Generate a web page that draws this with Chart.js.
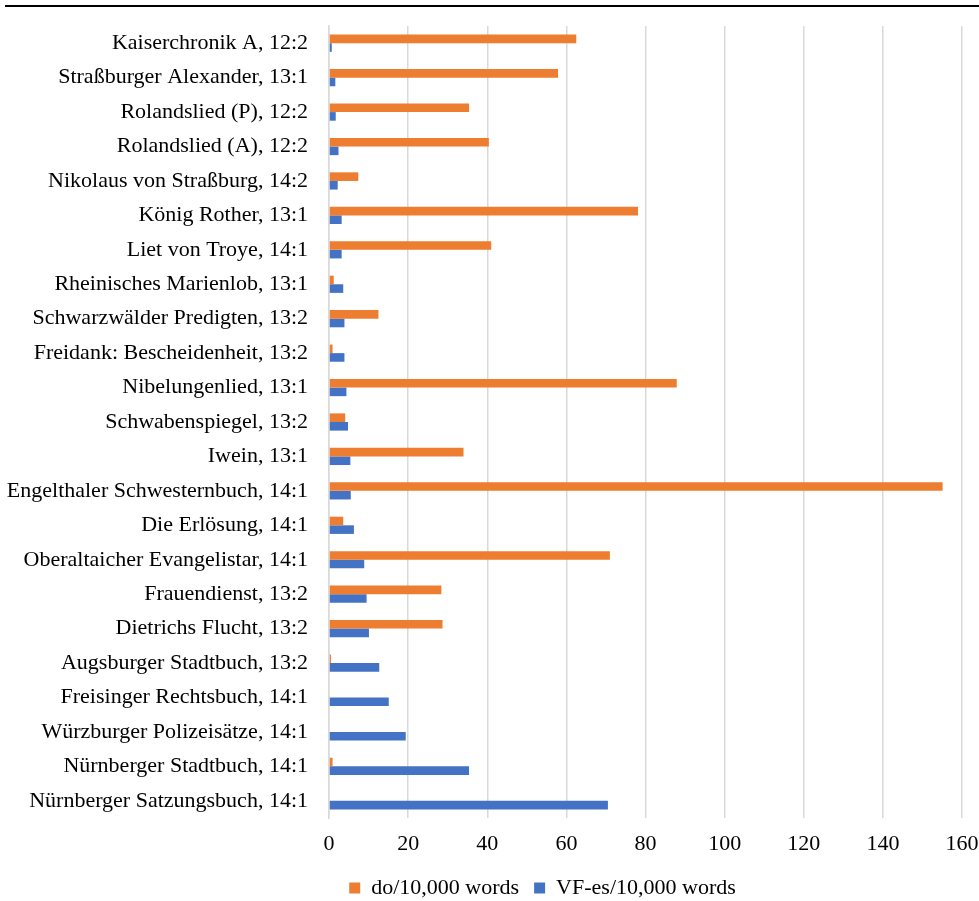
<!DOCTYPE html>
<html>
<head>
<meta charset="utf-8">
<script src="https://cdn.jsdelivr.net/npm/chart.js@4/dist/chart.umd.min.js"></script>
<style>
  html, body { margin: 0; padding: 0; background: #fff; }
  #wrap { position: relative; width: 979px; height: 901px; }
  #topline { position: absolute; left: 5px; right: 0; top: 5px; height: 0; border-top: 2px solid #000; }
  canvas { position: absolute; left: 0; top: 0; }
</style>
</head>
<body>
<div id="wrap">
  <div id="topline"></div>
  <canvas id="c" width="979" height="901"></canvas>
</div>
<script>
const categories = [
  "Kaiserchronik A, 12:2",
  "Straßburger Alexander, 13:1",
  "Rolandslied (P), 12:2",
  "Rolandslied (A), 12:2",
  "Nikolaus von Straßburg, 14:2",
  "König Rother, 13:1",
  "Liet von Troye, 14:1",
  "Rheinisches Marienlob, 13:1",
  "Schwarzwälder Predigten, 13:2",
  "Freidank: Bescheidenheit, 13:2",
  "Nibelungenlied, 13:1",
  "Schwabenspiegel, 13:2",
  "Iwein, 13:1",
  "Engelthaler Schwesternbuch, 14:1",
  "Die Erlösung, 14:1",
  "Oberaltaicher Evangelistar, 14:1",
  "Frauendienst, 13:2",
  "Dietrichs Flucht, 13:2",
  "Augsburger Stadtbuch, 13:2",
  "Freisinger Rechtsbuch, 14:1",
  "Würzburger Polizeisätze, 14:1",
  "Nürnberger Stadtbuch, 14:1",
  "Nürnberger Satzungsbuch, 14:1"
];
const doPer10k = [62.5, 57.9, 35.4, 40.4, 7.4, 78.1, 41.0, 1.2, 12.5, 0.9, 87.9, 4.1, 34.0, 155.1, 3.6, 71.0, 28.4, 28.7, 0.5, 0, 0, 0.9, 0];
const vfEsPer10k = [0.7, 1.6, 1.7, 2.4, 2.2, 3.2, 3.2, 3.6, 3.9, 3.9, 4.4, 4.8, 5.4, 5.5, 6.3, 8.9, 9.5, 10.1, 12.7, 15.1, 19.4, 35.4, 70.5];
const seriesNames = ["do/10,000 words", "VF-es/10,000 words"];
const xTicks = [0, 20, 40, 60, 80, 100, 120, 140, 160];

const FONT = "'Liberation Serif', 'Times New Roman', 'DejaVu Serif', serif";

// place the legend row: centre x ≈ 543, centre y ≈ 887
const legendPlace = {
  id: 'legendPlace',
  afterLayout(chart) {
    const l = chart.legend;
    if (!l) return;
    l.left += 53; l.right += 53;
    l.top += 8; l.bottom += 8;
  }
};

new Chart(document.getElementById('c'), {
  type: 'bar',
  data: {
    labels: categories,
    datasets: [
      { label: seriesNames[0], data: doPer10k, backgroundColor: '#ED7D31', borderWidth: 0,
        categoryPercentage: 0.5, barPercentage: 1.0 },
      { label: seriesNames[1], data: vfEsPer10k, backgroundColor: '#4472C4', borderWidth: 0,
        categoryPercentage: 0.5, barPercentage: 1.0 }
    ]
  },
  plugins: [legendPlace],
  options: {
    indexAxis: 'y',
    responsive: false,
    animation: false,
    devicePixelRatio: 1,
    layout: { padding: { left: 0, right: 0, top: 26, bottom: 0 } },
    plugins: {
      legend: {
        position: 'bottom',
        labels: {
          color: '#000',
          font: { family: FONT, size: 22 },
          boxWidth: 11, boxHeight: 11,
          padding: 15
        }
      },
      tooltip: { enabled: false }
    },
    scales: {
      x: {
        min: 0, max: 160,
        afterBuildTicks: (s) => { s.ticks = xTicks.map(v => ({ value: v })); },
        afterFit: (s) => { s.height = 36; s.paddingLeft = 0; s.paddingRight = 17; },
        grid: { color: '#d9d9d9', lineWidth: 1.5, drawTicks: false },
        border: { display: false },
        ticks: { color: '#000', font: { family: FONT, size: 22 }, padding: 13 }
      },
      y: {
        afterFit: (s) => { s.width = 329; s.paddingTop = 0; s.paddingBottom = 0; },
        grid: { display: false, drawTicks: false },
        border: { display: true, color: '#d9d9d9', width: 1.5 },
        ticks: { color: '#000', font: { family: FONT, size: 22 }, padding: 21, autoSkip: false }
      }
    }
  }
});
</script>
</body>
</html>
